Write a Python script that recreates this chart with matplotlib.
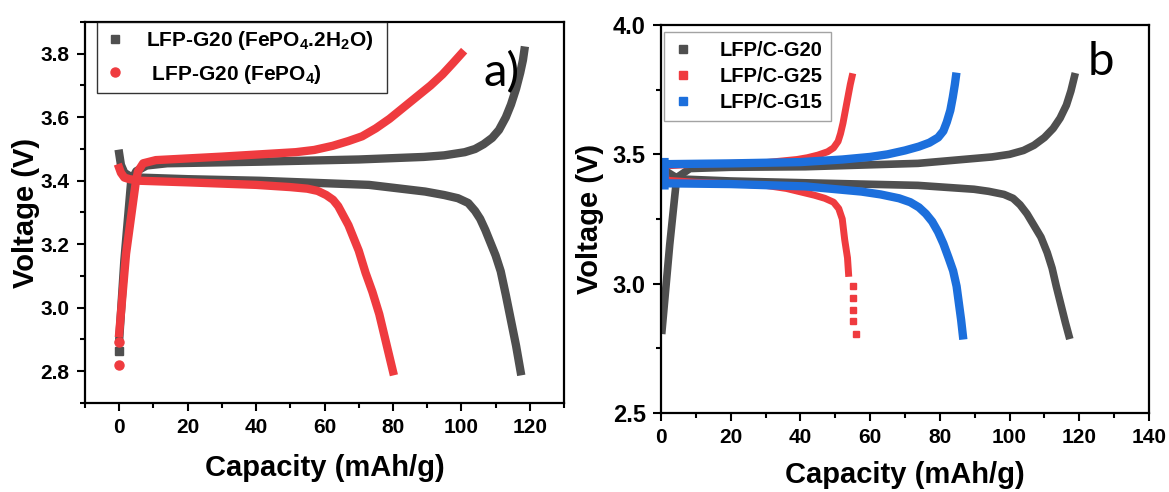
import matplotlib
matplotlib.use("Agg")
import matplotlib.pyplot as plt
from matplotlib.lines import Line2D
from matplotlib.ticker import MultipleLocator

plt.rcParams["font.family"] = ["Liberation Sans", "DejaVu Sans"]
plt.rcParams["font.weight"] = "bold"
plt.rcParams["mathtext.fontset"] = "custom"
plt.rcParams["mathtext.bf"] = "Liberation Sans:bold"
plt.rcParams["mathtext.rm"] = "Liberation Sans:bold"
plt.rcParams["mathtext.default"] = "bf"

OUT_PATH = "out.png"

GRAY = "#4f4f4f"
RED = "#ef3b3f"
BLUE = "#1c6fdc"

# ---- panel a) ----
A_LABELS = [r"LFP-G20 (FePO$_4$.2H$_2$O)", r" LFP-G20 (FePO$_4$)"]

a_gray_chg_x = [0, 1.5, 3.5, 5, 8, 14, 41, 70, 89, 95, 101, 104, 106.5, 109, 111,
                113, 114.5, 116, 117.2, 118, 118.4]
a_gray_chg_y = [2.90, 3.15, 3.40, 3.43, 3.448, 3.455, 3.46, 3.467, 3.475, 3.48, 3.49, 3.50,
                3.515, 3.535, 3.56, 3.60, 3.64, 3.69, 3.74, 3.78, 3.81]
a_gray_dis_x = [0, 0.5, 1.5, 3, 6, 20, 41, 73, 89.4, 95, 99, 102, 104, 105.5, 107, 108.5,
                110, 111.5, 113, 114.5, 116, 117.3]
a_gray_dis_y = [3.485, 3.45, 3.425, 3.415, 3.41, 3.405, 3.40, 3.387, 3.366, 3.355, 3.345,
                3.33, 3.305, 3.28, 3.245, 3.205, 3.165, 3.115, 3.04, 2.96, 2.88, 2.80]
a_gray_pts_x = [0]
a_gray_pts_y = [2.865]

a_red_chg_x = [0, 2, 4.9, 5.5, 7, 10.7, 30, 51.6, 57, 62.4, 67, 71, 75, 79, 83, 87, 91,
               94.5, 97.5, 100]
a_red_chg_y = [2.92, 3.17, 3.40, 3.43, 3.455, 3.465, 3.476, 3.49, 3.497, 3.51, 3.525, 3.54,
               3.565, 3.595, 3.63, 3.665, 3.70, 3.735, 3.77, 3.80]
a_red_dis_x = [0, 0.5, 1.5, 3, 6, 20, 40, 50, 55, 58, 60.5, 62.5, 64, 65.5, 67, 68.5, 70,
               72, 74, 76, 78, 80]
a_red_dis_y = [3.44, 3.425, 3.41, 3.405, 3.40, 3.395, 3.387, 3.38, 3.375, 3.368, 3.355,
               3.34, 3.32, 3.29, 3.26, 3.22, 3.18, 3.11, 3.05, 2.98, 2.89, 2.80]
a_red_pts_x = [0, 0]
a_red_pts_y = [2.82, 2.893]

# ---- panel b ----
B_LABELS = ["LFP/C-G20", "LFP/C-G25", "LFP/C-G15"]

g20_chg_x = [0.3, 2.5, 4.5, 8.3, 20, 41.4, 73.7, 95, 100, 104, 107, 110, 112.5, 114.5,
             116.3, 117.6, 118.6]
g20_chg_y = [2.82, 3.15, 3.41, 3.445, 3.45, 3.452, 3.465, 3.49, 3.50, 3.515, 3.535, 3.565,
             3.60, 3.64, 3.69, 3.745, 3.80]
g20_dis_x = [2, 5, 20, 41.4, 73.7, 89.8, 94, 98.4, 101, 103, 105, 107, 109, 110.8, 112.2,
             113.4, 114.7, 116, 117]
g20_dis_y = [3.43, 3.405, 3.397, 3.39, 3.38, 3.365, 3.357, 3.345, 3.33, 3.305, 3.27, 3.225,
             3.18, 3.12, 3.06, 2.99, 2.92, 2.85, 2.80]

g25_chg_x = [1, 1, 10, 30, 39, 42, 45, 47.8, 49.5, 50.8, 51.5, 52.2, 52.9, 53.6, 54.3, 54.8]
g25_chg_y = [3.39, 3.455, 3.462, 3.468, 3.48, 3.487, 3.497, 3.51, 3.525, 3.55, 3.58, 3.62,
             3.67, 3.72, 3.77, 3.80]
g25_dis_x = [1, 1.5, 10, 30, 36, 40, 44, 47, 49.5, 51, 52, 52.7, 53.5, 53.8]
g25_dis_y = [3.46, 3.40, 3.392, 3.38, 3.368, 3.355, 3.342, 3.33, 3.315, 3.29, 3.25, 3.17,
             3.10, 3.04]
g25_tail_x = [55.05, 55.05, 55.05, 55.05, 55.9]
g25_tail_y = [2.99, 2.946, 2.90, 2.855, 2.805]

g15_chg_x = [1, 1, 20, 40, 52, 60, 65, 70, 74, 77, 79.5, 81, 82, 83, 83.7, 84.3, 84.6]
g15_chg_y = [3.38, 3.462, 3.465, 3.47, 3.48, 3.49, 3.50, 3.515, 3.53, 3.545, 3.565, 3.59,
             3.625, 3.67, 3.72, 3.77, 3.80]
g15_dis_x = [1, 1, 20, 41.4, 57.5, 63, 68.3, 71.5, 74, 76, 77.8, 79.5, 81, 82.5, 83.8, 84.8,
             85.5, 86.1, 86.6]
g15_dis_y = [3.47, 3.388, 3.385, 3.376, 3.356, 3.345, 3.33, 3.315, 3.295, 3.27, 3.24, 3.20,
             3.155, 3.10, 3.05, 2.99, 2.92, 2.86, 2.80]


def style_axes(ax, ylab_fs):
    for sp in ax.spines.values():
        sp.set_linewidth(1.6)
    ax.tick_params(which="both", direction="out", top=False, right=False, width=1.5)
    ax.tick_params(which="major", length=6, pad=5)
    ax.tick_params(which="minor", length=3.5)
    ax.tick_params(axis="x", labelsize=15)
    ax.tick_params(axis="y", labelsize=ylab_fs)


def main():
    fig = plt.figure(figsize=(11.69, 4.92), dpi=100)
    W, H = 1169, 492

    # panel a
    ax1 = fig.add_axes([85 / W, (H - 403) / H, 479 / W, 381 / H])
    ax1.plot(a_gray_chg_x, a_gray_chg_y, color=GRAY, lw=6)
    ax1.plot(a_gray_dis_x, a_gray_dis_y, color=GRAY, lw=6)
    ax1.plot(a_gray_pts_x, a_gray_pts_y, ls="none", marker="s", color=GRAY, ms=6)
    ax1.plot(a_red_chg_x, a_red_chg_y, color=RED, lw=6)
    ax1.plot(a_red_dis_x, a_red_dis_y, color=RED, lw=6)
    ax1.plot(a_red_pts_x, a_red_pts_y, ls="none", marker="o", color=RED, ms=6.5)

    ax1.set_xlim(-10, 130)
    ax1.set_ylim(2.7, 3.9)
    ax1.xaxis.set_major_locator(MultipleLocator(20))
    ax1.xaxis.set_minor_locator(MultipleLocator(10))
    ax1.yaxis.set_major_locator(MultipleLocator(0.2))
    ax1.yaxis.set_minor_locator(MultipleLocator(0.1))
    style_axes(ax1, 15)
    ax1.set_xlabel("Capacity (mAh/g)", fontsize=21, fontweight="bold")
    ax1.set_ylabel("Voltage (V)", fontsize=21, fontweight="bold")
    ax1.xaxis.label.set_va("center")
    ax1.yaxis.label.set_va("center")
    ax1.xaxis.set_label_coords(0.5, -0.171)
    ax1.yaxis.set_label_coords(-0.123, 0.5)

    handles_a = [
        Line2D([], [], ls="none", marker="s", color=GRAY, ms=6),
        Line2D([], [], ls="none", marker="o", color=RED, ms=6.5),
    ]
    leg = ax1.legend(handles_a, A_LABELS, loc="upper left",
                     bbox_to_anchor=(0.025, 0.814, 0.605, 0.186), mode="expand",
                     borderaxespad=0, fontsize=15, frameon=True, fancybox=False,
                     handlelength=1.0, handletextpad=1.0, labelspacing=0.5,
                     borderpad=0.35)
    leg.get_frame().set_edgecolor("black")
    leg.get_frame().set_linewidth(1.0)
    ax1.text(0.831, 0.866, "a)", transform=ax1.transAxes, fontsize=34,
             fontweight="normal", family="Lato", ha="left", va="center")

    # panel b
    ax2 = fig.add_axes([661 / W, (H - 413) / H, 488 / W, 388 / H])
    ax2.plot(g20_chg_x, g20_chg_y, color=GRAY, lw=5.5)
    ax2.plot(g20_dis_x, g20_dis_y, color=GRAY, lw=5.5)
    ax2.plot(g25_chg_x, g25_chg_y, color=RED, lw=5)
    ax2.plot(g25_dis_x, g25_dis_y, color=RED, lw=5)
    ax2.plot(g25_tail_x, g25_tail_y, ls="none", marker="s", color=RED, ms=5)
    ax2.plot(g15_chg_x, g15_chg_y, color=BLUE, lw=6)
    ax2.plot(g15_dis_x, g15_dis_y, color=BLUE, lw=6)

    ax2.set_xlim(0, 140)
    ax2.set_ylim(2.5, 4.0)
    ax2.xaxis.set_major_locator(MultipleLocator(20))
    ax2.xaxis.set_minor_locator(MultipleLocator(10))
    ax2.yaxis.set_major_locator(MultipleLocator(0.5))
    ax2.yaxis.set_minor_locator(MultipleLocator(0.25))
    style_axes(ax2, 17)
    ax2.set_xlabel("Capacity (mAh/g)", fontsize=21, fontweight="bold")
    ax2.set_ylabel("Voltage (V)", fontsize=21, fontweight="bold")
    ax2.xaxis.label.set_va("center")
    ax2.yaxis.label.set_va("center")
    ax2.xaxis.set_label_coords(0.5, -0.16)
    ax2.yaxis.set_label_coords(-0.145, 0.5)

    handles_b = [Line2D([], [], ls="none", marker="s", color=c, ms=6)
                 for c in (GRAY, RED, BLUE)]
    leg2 = ax2.legend(handles_b, B_LABELS, loc="upper left",
                      bbox_to_anchor=(0.006, 0.982), borderaxespad=0,
                      fontsize=14.5, frameon=True, fancybox=False,
                      handlelength=1.0, handletextpad=1.3, labelspacing=0.35,
                      borderpad=0.45)
    leg2.get_frame().set_edgecolor("#8c8c8c")
    leg2.get_frame().set_linewidth(1.0)
    ax2.text(0.875, 0.905, "b", transform=ax2.transAxes, fontsize=34,
             fontweight="normal", family="Lato", ha="left", va="center")

    fig.savefig(OUT_PATH, dpi=100)


if __name__ == "__main__":
    main()
